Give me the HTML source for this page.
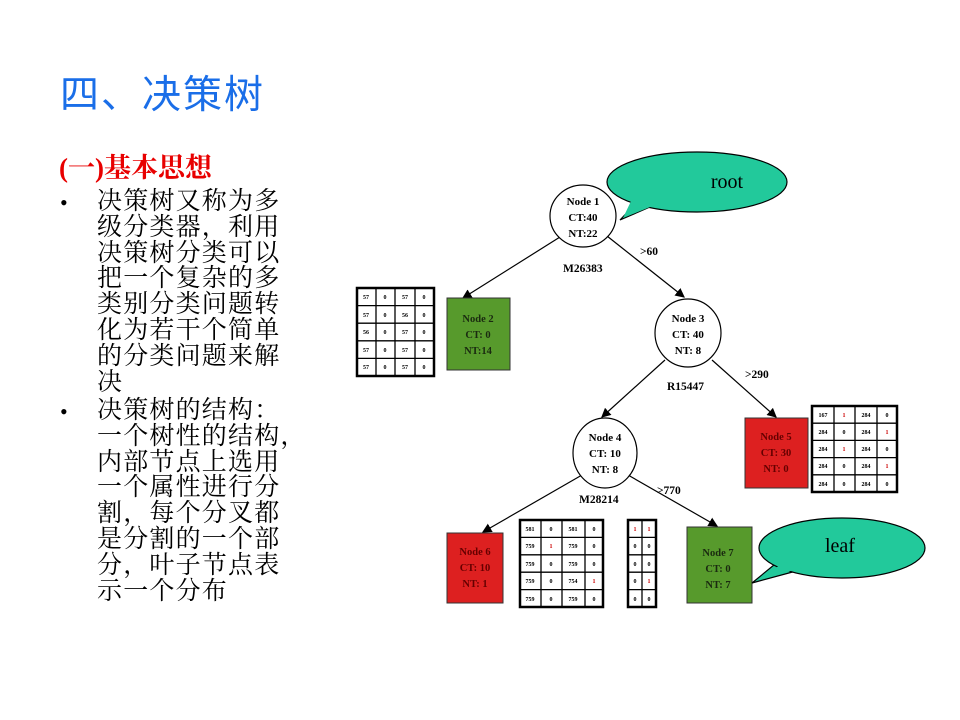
<!DOCTYPE html>
<html><head><meta charset="utf-8"><style>
html,body{margin:0;padding:0;background:#fff;}
body{width:960px;height:720px;position:relative;overflow:hidden;font-family:"Liberation Serif","Noto Serif CJK SC",serif;}
.t{position:absolute;left:60px;top:64px;font-size:39px;color:#1a6ee8;font-family:"Liberation Sans","Noto Sans CJK SC",sans-serif;letter-spacing:2px;white-space:nowrap;}
.s{position:absolute;left:59px;top:146px;font-size:27px;color:#e80000;font-weight:bold;white-space:nowrap;}
.b{position:absolute;left:97px;font-size:25px;line-height:25.8px;color:#000;letter-spacing:1.2px;white-space:nowrap;}
.d{position:absolute;left:60px;font-size:22px;}
</style></head><body>
<div class="t">四、决策树</div>
<div class="s">(一)基本思想</div>
<div class="d" style="top:190px">•</div>
<div class="b" style="top:189px">决策树又称为多<br>级分类器，利用<br>决策树分类可以<br>把一个复杂的多<br>类别分类问题转<br>化为若干个简单<br>的分类问题来解<br>决</div>
<div class="d" style="top:399px">•</div>
<div class="b" style="top:398px">决策树的结构：<br>一个树性的结构，<br>内部节点上选用<br>一个属性进行分<br>割，每个分叉都<br>是分割的一个部<br>分，叶子节点表<br>示一个分布</div>
<svg width="960" height="720" style="position:absolute;left:0;top:0" font-family="Liberation Serif,serif" font-weight="bold">
<defs><marker id="a" markerWidth="8" markerHeight="8" refX="7" refY="4" orient="auto"><path d="M0,0 L8,4 L0,8z" fill="#000"/></marker></defs>
<g stroke="#000" stroke-width="1.2" marker-end="url(#a)">
<line x1="560" y1="237" x2="463" y2="298"/>
<line x1="607" y1="236" x2="684" y2="297"/>
<line x1="665" y1="360" x2="602" y2="417"/>
<line x1="712" y1="360" x2="776" y2="417"/>
<line x1="582" y1="475" x2="483" y2="532"/>
<line x1="628" y1="475" x2="717" y2="526"/>
</g>
<ellipse cx="697" cy="182" rx="90" ry="30" fill="#22c99b" stroke="#000" stroke-width="1.2"/>
<path d="M650,207 L620,220 L637,202" fill="#22c99b" stroke="#000" stroke-width="1.2"/>
<path d="M655,205 L623,218 L632,199 Z" fill="#22c99b"/>
<text x="727" y="188" font-size="20" font-weight="normal" text-anchor="middle">root</text>
<g stroke="#000" stroke-width="1.2" fill="#fff">
<ellipse cx="583" cy="216" rx="33" ry="31"/>
<ellipse cx="688" cy="333" rx="33" ry="34"/>
<ellipse cx="605" cy="453" rx="32" ry="35"/>
</g>
<g font-size="11" text-anchor="middle">
<text x="583" y="205">Node 1</text><text x="583" y="221">CT:40</text><text x="583" y="237">NT:22</text>
<text x="688" y="322">Node 3</text><text x="688" y="338">CT: 40</text><text x="688" y="354">NT: 8</text>
<text x="605" y="441">Node 4</text><text x="605" y="457">CT: 10</text><text x="605" y="473">NT: 8</text>
</g>
<g font-size="11.5">
<text x="640" y="255">&gt;60</text><text x="563" y="272">M26383</text>
<text x="745" y="378">&gt;290</text><text x="667" y="390">R15447</text>
<text x="657" y="494">&gt;770</text><text x="579" y="503">M28214</text>
</g>
<rect x="447" y="298" width="63" height="72" fill="#579a2c" stroke="#333"/>
<rect x="745" y="418" width="63" height="70" fill="#dd2020" stroke="#333"/>
<rect x="447" y="533" width="56" height="70" fill="#dd2020" stroke="#333"/>
<rect x="687" y="527" width="65" height="76" fill="#579a2c" stroke="#333"/>
<g font-size="10.5" text-anchor="middle" fill="#1a2a10">
<text x="478" y="322">Node 2</text><text x="478" y="338">CT: 0</text><text x="478" y="354">NT:14</text>
<text x="718" y="556">Node 7</text><text x="718" y="572">CT: 0</text><text x="718" y="588">NT: 7</text>
</g>
<g font-size="10.5" text-anchor="middle" fill="#600">
<text x="776" y="440">Node 5</text><text x="776" y="456">CT: 30</text><text x="776" y="472">NT: 0</text>
<text x="475" y="555">Node 6</text><text x="475" y="571">CT: 10</text><text x="475" y="587">NT: 1</text>
</g>
<path d="M800,570 L752,583 L780,560 Z" fill="#22c99b" stroke="#000" stroke-width="1.2"/>
<ellipse cx="842" cy="548" rx="83" ry="30" fill="#22c99b" stroke="#000" stroke-width="1.2"/>
<path d="M802,568 L757,580 L785,562 Z" fill="#22c99b"/>
<text x="840" y="552" font-size="20" font-weight="normal" text-anchor="middle">leaf</text>
<g stroke="#000" fill="none">
<rect x="357" y="288" width="77" height="88" stroke-width="2.5"/>
<path d="M376,288V376M395,288V376M415,288V376M357,305.6H434M357,323.2H434M357,340.8H434M357,358.4H434" stroke-width="1.3"/>
<rect x="812" y="406" width="85" height="86" stroke-width="2.5"/>
<path d="M834,406V492M855,406V492M877,406V492M812,423.2H897M812,440.4H897M812,457.6H897M812,474.8H897" stroke-width="1.3"/>
<rect x="520" y="520" width="83" height="87" stroke-width="2.5"/>
<path d="M541,520V607M562,520V607M585,520V607M520,537.4H603M520,554.8H603M520,572.2H603M520,589.6H603" stroke-width="1.3"/>
<rect x="628" y="520" width="28" height="87" stroke-width="2.5"/>
<path d="M642,520V607M628,537.4H656M628,554.8H656M628,572.2H656M628,589.6H656" stroke-width="1.3"/>
</g>
<g font-size="6" text-anchor="middle">
<text x="366" y="299">57</text><text x="385" y="299">0</text><text x="405" y="299">57</text><text x="424" y="299">0</text>
<text x="366" y="317">57</text><text x="385" y="317">0</text><text x="405" y="317">56</text><text x="424" y="317">0</text>
<text x="366" y="334">56</text><text x="385" y="334">0</text><text x="405" y="334">57</text><text x="424" y="334">0</text>
<text x="366" y="352">57</text><text x="385" y="352">0</text><text x="405" y="352">57</text><text x="424" y="352">0</text>
<text x="366" y="369">57</text><text x="385" y="369">0</text><text x="405" y="369">57</text><text x="424" y="369">0</text>
<text x="823" y="417">167</text><text x="844" y="417" fill="#c00">1</text><text x="866" y="417">284</text><text x="887" y="417">0</text>
<text x="823" y="434">284</text><text x="844" y="434">0</text><text x="866" y="434">284</text><text x="887" y="434" fill="#c00">1</text>
<text x="823" y="451">284</text><text x="844" y="451" fill="#c00">1</text><text x="866" y="451">284</text><text x="887" y="451">0</text>
<text x="823" y="468">284</text><text x="844" y="468">0</text><text x="866" y="468">284</text><text x="887" y="468" fill="#c00">1</text>
<text x="823" y="486">284</text><text x="844" y="486">0</text><text x="866" y="486">284</text><text x="887" y="486">0</text>
<text x="530" y="531">581</text><text x="551" y="531">0</text><text x="573" y="531">581</text><text x="594" y="531">0</text>
<text x="530" y="548">759</text><text x="551" y="548" fill="#c00">1</text><text x="573" y="548">759</text><text x="594" y="548">0</text>
<text x="530" y="566">759</text><text x="551" y="566">0</text><text x="573" y="566">759</text><text x="594" y="566">0</text>
<text x="530" y="583">759</text><text x="551" y="583">0</text><text x="573" y="583">754</text><text x="594" y="583" fill="#c00">1</text>
<text x="530" y="601">759</text><text x="551" y="601">0</text><text x="573" y="601">759</text><text x="594" y="601">0</text>
<text x="635" y="531" fill="#c00">1</text><text x="649" y="531" fill="#c00">1</text>
<text x="635" y="548">0</text><text x="649" y="548">0</text>
<text x="635" y="566">0</text><text x="649" y="566">0</text>
<text x="635" y="583">0</text><text x="649" y="583" fill="#c00">1</text>
<text x="635" y="601">0</text><text x="649" y="601">0</text>
</g>
</svg>
</body></html>
